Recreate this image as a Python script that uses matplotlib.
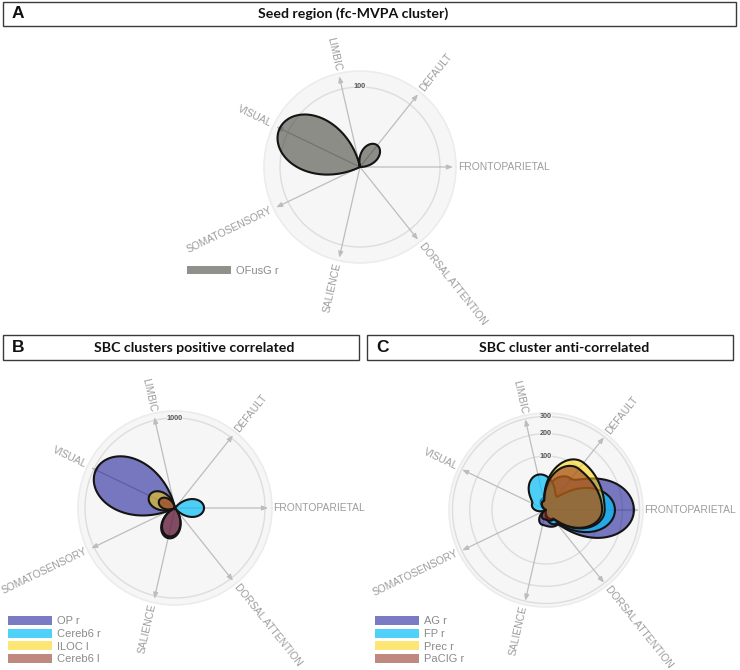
import numpy as np
import matplotlib
matplotlib.use('Agg')
import matplotlib.pyplot as plt
from matplotlib.patches import Rectangle, Patch
from matplotlib import font_manager

W, H = 740, 670

# ---------------- data ----------------
networks = ['FRONTOPARIETAL', 'DEFAULT', 'LIMBIC', 'VISUAL',
            'SOMATOSENSORY', 'SALIENCE', 'DORSAL ATTENTION']

a_series = ['OFusG r']
a_values = [[0, 12, 0, 124, 0, 0, 0]]
a_ticks = [100]

b_series = ['OP r', 'Cereb6 r', 'ILOC l', 'Cereb6 l']
b_values = [[0, 0, 0, 950, 0, 118, 0],
            [104, 0, 0, 0, 0, 0, 0],
            [0, 0, 0, 100, 0, 0, 0],
            [0, 0, 0, 38, 0, 104, 0]]
b_ticks = [1000]

c_series = ['AG r', 'FP r', 'Prec r', 'PaCIG r']
c_values = [[265, 55, 5, 0, 0, 8, 12],
            [163, 10, 45, 8, 0, 0, 10],
            [118, 125, 3, 0, 0, 0, 4],
            [108, 95, 3, 0, 0, 3, 5]]
c_ticks = [100, 200, 300]

grey_col = (0.22, 0.22, 0.18, 0.55)
palette = [(15/255, 15/255, 146/255, 0.55),
           (4/255, 190/255, 247/255, 0.70),
           (252/255, 210/255, 0/255, 0.55),
           (140/255, 40/255, 25/255, 0.55)]

# ---------------- fonts ----------------
names = {f.name for f in font_manager.fontManager.ttflist}
if 'Liberation Sans Narrow' in names:
    lab_font, lab_size = ['Liberation Sans Narrow', 'DejaVu Sans'], 8.2
else:
    lab_font, lab_size = ['Liberation Sans', 'DejaVu Sans'], 7.4
sans = ['Liberation Sans', 'DejaVu Sans']
title_font = ['Lato', 'DejaVu Sans'] if 'Lato' in names else ['DejaVu Sans']

fig = plt.figure(figsize=(W / 100, H / 100), dpi=100)
fig.patch.set_facecolor('white')


def fwd(x):
    return np.sqrt(np.clip(x, 0, None))


def inv(x):
    return np.square(x)


def curve(vals, n=1441):
    vals = np.asarray(vals, dtype=float)
    step = 2 * np.pi / len(vals)
    th = np.linspace(0, 2 * np.pi, n)
    idx = np.minimum(np.floor(th / step).astype(int), len(vals) - 1)
    t = th / step - idx
    w = np.sin(np.pi * t / 2) ** 2
    v = vals[idx] * (1 - w) + vals[(idx + 1) % len(vals)] * w
    return th, v


def panel(cx, cy, R, k, ticks, series, values, colors):
    ax = fig.add_axes([(cx - R) / W, 1 - (cy + R) / H, 2 * R / W, 2 * R / H],
                      projection='polar')
    ax.set_rscale('function', functions=(fwd, inv))
    vdisc = (R / k) ** 2
    vaxis = (93.0 / k) ** 2
    ax.set_ylim(0, vdisc)
    ax.set_facecolor('#f6f6f6')
    ax.grid(False)
    ax.set_xticks([])
    ax.set_yticks([])
    ax.spines['polar'].set_color('#ececec')
    ax.spines['polar'].set_linewidth(1.2)
    full = np.linspace(0, 2 * np.pi, 400)
    for tv in ticks:
        ax.plot(full, np.full_like(full, tv), color='#dddddd', lw=1.0, zorder=1)
    angles = np.arange(len(networks)) * 2 * np.pi / len(networks)
    for ang, name in zip(angles, networks):
        ax.annotate('', xy=(ang, vaxis), xytext=(ang, 0),
                    arrowprops=dict(arrowstyle='-|>,head_length=0.35,head_width=0.14',
                                    color='#bdbdbd', lw=0.9, shrinkA=0, shrinkB=0),
                    zorder=2)
        deg = np.rad2deg(ang)
        if np.cos(ang) > 0.01:
            rot, ha = (deg if deg <= 90 else deg - 360), 'left'
        else:
            rot, ha = deg - 180, 'right'
        off = 4.0
        ax.annotate(name, xy=(ang, vaxis), xytext=(off * np.cos(ang), off * np.sin(ang)),
                    textcoords='offset points', rotation=rot, ha=ha, va='center',
                    rotation_mode='anchor', fontsize=lab_size, family=lab_font,
                    color='#9c9c9c', annotation_clip=False)
    handles = []
    for name, vals, col in zip(series, values, colors):
        th, v = curve(vals)
        ax.fill(th, v, facecolor=col, edgecolor='#141414', lw=1.5, zorder=3,
                joinstyle='round')
        handles.append(Patch(facecolor=col, edgecolor='none', label=name))
    for tv in ticks:
        ax.text(np.pi / 2, tv, str(tv), ha='center', va='center', fontsize=5.2,
                fontweight='bold', color='#555555', zorder=5, family=sans,
                bbox=dict(boxstyle='square,pad=0.05', fc='#f6f6f6', ec='none'))
    return ax, handles


def legend(handles, x, y):
    fig.legend(handles=handles, loc='upper left', bbox_to_anchor=(x / W, 1 - y / H),
               frameon=False, handlelength=4.0, handleheight=0.85,
               handletextpad=0.45, labelspacing=0.22, borderpad=0, borderaxespad=0,
               labelcolor='#8a8a8a', prop={'family': sans, 'size': 8.0})


def title_box(x0, y0, x1, y1, letter, title, tx):
    fig.add_artist(Rectangle((x0 / W, 1 - y1 / H), (x1 - x0) / W, (y1 - y0) / H,
                             transform=fig.transFigure, fill=False, ec='#3a3a3a', lw=1.0))
    yc = 1 - (y0 + y1) / 2 / H
    fig.text((x0 + 9) / W, yc, letter, ha='left', va='center', fontsize=12.5,
             fontweight='bold', family=sans, color='#111111')
    fig.text(tx / W, yc, title, ha='center', va='center', fontsize=10.2,
             fontweight='bold', family=title_font, color='#111111')


title_box(3, 2, 736, 26, 'A', 'Seed region (fc-MVPA cluster)', 353)
title_box(3, 335, 359, 360, 'B', 'SBC clusters positive correlated', 194)
title_box(367, 335, 733, 360, 'C', 'SBC cluster anti-correlated', 564)

axA, hA = panel(360, 167, 96, 8.0, a_ticks, a_series, a_values, [grey_col])
axB, hB = panel(175, 508, 97, 90 / np.sqrt(1000), b_ticks, b_series, b_values, palette)
axC, hC = panel(546, 510, 97, 93.5 / np.sqrt(300), c_ticks, c_series, c_values, palette)

legend(hA, 187, 265.5)
legend(hB, 8, 616)
legend(hC, 375, 616)

fig.savefig('out.png', dpi=100, facecolor='white')
